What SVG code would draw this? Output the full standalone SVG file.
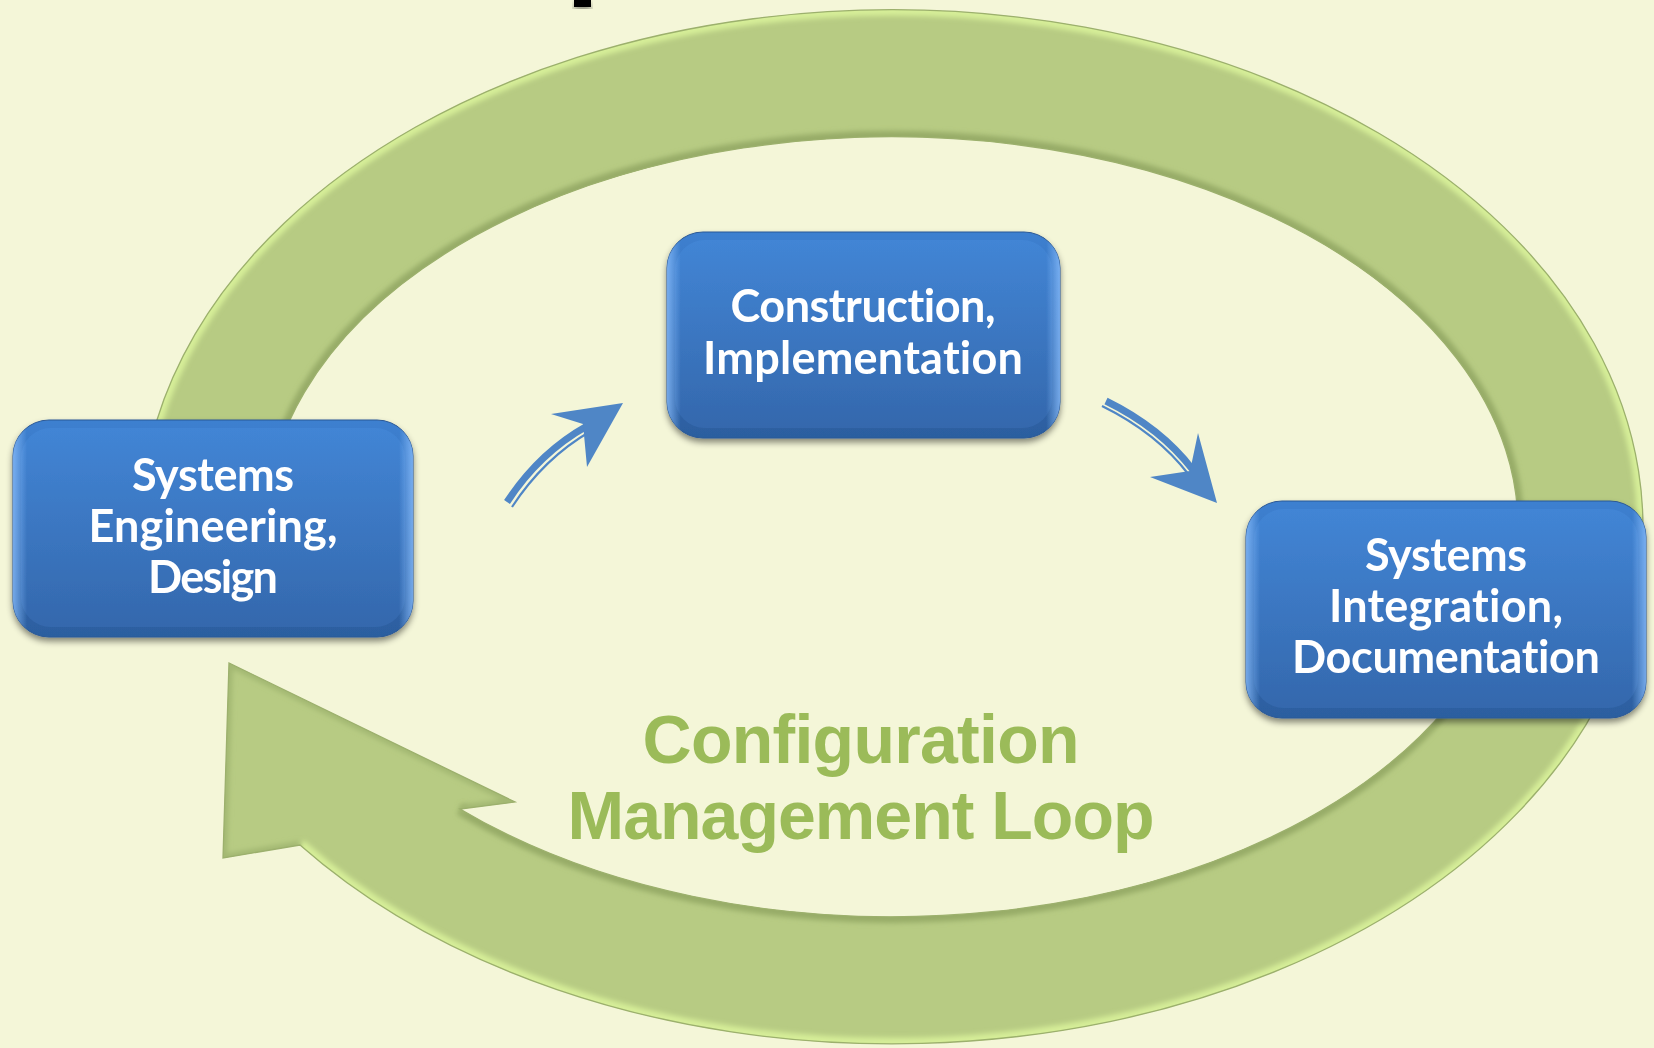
<svg xmlns="http://www.w3.org/2000/svg" width="1654" height="1048" viewBox="0 0 1654 1048">
<style>
.box-text{font-family:Lato,"Open Sans","Liberation Sans",sans-serif;font-weight:700;font-size:45px;fill:#FFFFFF;text-anchor:middle;font-variant-ligatures:none;font-feature-settings:"liga" 0}
.loop-text{font-family:"Liberation Sans",Arial,sans-serif;font-weight:700;font-size:68px;fill:#9BBB59;text-anchor:middle}
.shaft{fill:none;stroke:#4F86C6;stroke-width:7}
.thin{fill:none;stroke:#4F86C6;stroke-width:2.2}
.head{fill:#4F86C6}
</style>
<defs>
<linearGradient id="rimGrad" x1="0" y1="0" x2="0" y2="1">
<stop offset="0" stop-color="#3D80D0"/>
<stop offset="1" stop-color="#2C5E9F"/>
</linearGradient>
<linearGradient id="faceGrad" x1="0" y1="0" x2="0" y2="1">
<stop offset="0" stop-color="#4285D5"/>
<stop offset="1" stop-color="#3468AD"/>
</linearGradient>
<linearGradient id="sideGrad" x1="0" y1="0" x2="1" y2="0">
<stop offset="0" stop-color="#8CC0FF" stop-opacity="0.75"/>
<stop offset="0.035" stop-color="#8CC0FF" stop-opacity="0"/>
<stop offset="0.965" stop-color="#8CC0FF" stop-opacity="0"/>
<stop offset="1" stop-color="#8CC0FF" stop-opacity="0.75"/>
</linearGradient>
<filter id="shadow" x="-10%" y="-10%" width="120%" height="130%">
<feDropShadow dx="0" dy="4" stdDeviation="3" flood-color="#000000" flood-opacity="0.45"/>
</filter>
<filter id="soft" x="-5%" y="-5%" width="110%" height="110%">
<feGaussianBlur stdDeviation="2.5"/>
</filter>
<clipPath id="bandClip">
<path d="M 142.5 560 A 751 517 0 1 1 300 845 L 223 858 L 229 663 L 515 802 L 460 809 A 626 390 0 1 0 268.3 560 Z"/>
</clipPath>
</defs>
<rect x="0" y="0" width="1654" height="1048" fill="#F4F6D8"/>
<rect x="574" y="0" width="17" height="7" fill="#000000" filter="url(#shadow)"/>

<g id="loop-arrow">
<path d="M 142.5 560 A 751 517 0 1 1 300 845 L 223 858 L 229 663 L 515 802 L 460 809 A 626 390 0 1 0 268.3 560 Z" fill="#B7CB83"/>
<g clip-path="url(#bandClip)">
<path d="M 142.5 560 A 751 517 0 1 1 300 845" fill="none" stroke="#D6EE98" stroke-width="12" filter="url(#soft)"/>
<path d="M 460 809 A 626 390 0 1 0 268.3 560" fill="none" stroke="#97AC67" stroke-width="12" filter="url(#soft)"/>
<path d="M 300 845 L 223 858 L 229 663 L 515 802 L 460 809" fill="none" stroke="#A3B872" stroke-width="8" filter="url(#soft)"/>
</g>
<path d="M 142.5 560 A 751 517 0 1 1 300 845 L 223 858 L 229 663 L 515 802 L 460 809 A 626 390 0 1 0 268.3 560 Z" fill="none" stroke="#9CB06D" stroke-width="1.3"/>
</g>

<g id="connectors">
<g id="arrow-design-to-construction">
<path class="shaft" d="M 507 502 Q 539 453 587 426"/>
<path class="thin" d="M 512 507 Q 544 458 591 431"/>
<polygon class="head" points="623,403 551,414 583,424 587,467"/>
</g>
<g id="arrow-construction-to-integration">
<path class="shaft" d="M 1106 401 Q 1161 428 1193 470"/>
<path class="thin" d="M 1102 406 Q 1157 433 1189 475"/>
<polygon class="head" points="1217,503 1198,433 1190,471 1150,477"/>
</g>
</g>

<g id="node-design" filter="url(#shadow)">
<rect x="13" y="420" width="400" height="217" rx="36" fill="url(#rimGrad)" stroke="#2A5896" stroke-width="1"/>
<rect x="21" y="428" width="384" height="199" rx="30" fill="url(#faceGrad)"/>
<rect x="13" y="420" width="400" height="217" rx="36" fill="url(#sideGrad)"/>
<text class="box-text" x="213" y="491" textLength="162">Systems</text>
<text class="box-text" x="213" y="542" textLength="249">Engineering,</text>
<text class="box-text" x="213" y="593" textLength="130">Design</text>
</g>

<g id="node-construction" filter="url(#shadow)">
<rect x="667" y="232" width="393" height="206" rx="36" fill="url(#rimGrad)" stroke="#2A5896" stroke-width="1"/>
<rect x="675" y="240" width="377" height="188" rx="30" fill="url(#faceGrad)"/>
<rect x="667" y="232" width="393" height="206" rx="36" fill="url(#sideGrad)"/>
<text class="box-text" x="863" y="322" textLength="265">Construction,</text>
<text class="box-text" x="863" y="374" textLength="320">Implementation</text>
</g>

<g id="node-integration" filter="url(#shadow)">
<rect x="1246" y="501" width="400" height="217" rx="36" fill="url(#rimGrad)" stroke="#2A5896" stroke-width="1"/>
<rect x="1254" y="509" width="384" height="199" rx="30" fill="url(#faceGrad)"/>
<rect x="1246" y="501" width="400" height="217" rx="36" fill="url(#sideGrad)"/>
<text class="box-text" x="1446" y="571" textLength="162">Systems</text>
<text class="box-text" x="1446" y="622" textLength="234">Integration,</text>
<text class="box-text" x="1446" y="673" textLength="308">Documentation</text>
</g>

<g id="loop-label">
<text class="loop-text" x="861" y="763" textLength="437">Configuration</text>
<text class="loop-text" x="861" y="839" textLength="587">Management Loop</text>
</g>
</svg>
